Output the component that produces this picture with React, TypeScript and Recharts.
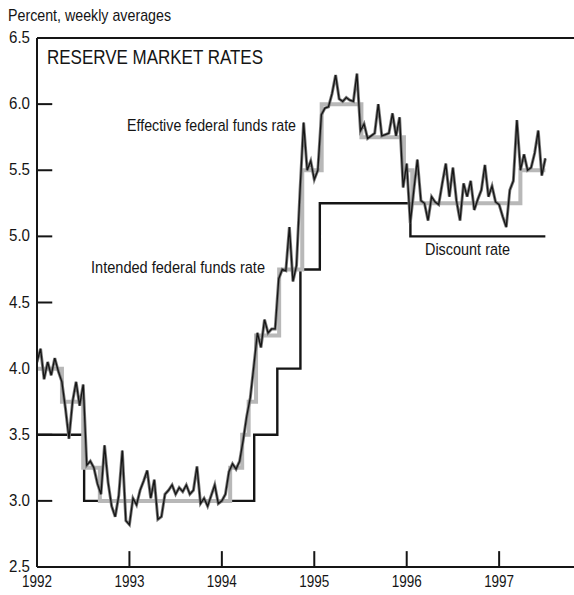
import { Line, LineChart, ReferenceLine, XAxis, YAxis } from "recharts";

const W = 574;
const H = 595;
const INK = "#151515";
const FONT = "'Liberation Sans Narrow', 'Arial Narrow', 'Liberation Sans', Arial, sans-serif";

const YEARS = [1992, 1993, 1994, 1995, 1996, 1997];
const Y_TICKS = [2.5, 3.0, 3.5, 4.0, 4.5, 5.0, 5.5, 6.0, 6.5];
const X_MIN = 1992;
const X_MAX = 1997.81;
const Y_MIN = 2.5;
const Y_MAX = 6.5;
// inward tick marks, in data units
const Y_TICK_LEN = 0.165;
const X_TICK_LEN = 0.12;

const EFF_START = 1992;
const EFF_STEP = 1 / 26;
const EFFECTIVE = [
  // 1992
  4.05, 4.15, 3.92, 4.05, 3.95, 4.08, 3.98, 3.9, 3.7, 3.47, 3.75, 3.9, 3.72,
  3.88, 3.27, 3.3, 3.25, 3.13, 3.05, 3.42, 3.14, 2.96, 2.88, 3.04, 3.38, 2.85,
  // 1993
  2.82, 3.02, 2.97, 3.08, 3.15, 3.23, 3.02, 3.16, 2.86, 2.88, 3.05, 3.08, 3.12,
  3.05, 3.1, 3.07, 3.12, 3.05, 3.08, 3.26, 2.98, 3.02, 2.96, 3.04, 3.12, 2.98,
  // 1994
  3.0, 3.05, 3.22, 3.28, 3.24, 3.3, 3.46, 3.64, 3.78, 4.02, 4.27, 4.16, 4.37,
  4.27, 4.3, 4.3, 4.68, 4.75, 4.74, 5.07, 4.66, 4.78, 5.35, 5.86, 5.5, 5.57,
  // 1995
  5.43, 5.5, 5.92, 5.97, 5.98, 6.08, 6.22, 6.04, 6.02, 6.05, 6.03, 6.02, 6.23,
  5.8, 5.85, 5.74, 5.76, 5.78, 6.0, 5.76, 5.77, 5.78, 5.93, 5.76, 5.9, 5.37,
  // 1996
  5.55, 5.1, 5.35, 5.58, 5.27, 5.25, 5.12, 5.3, 5.26, 5.24, 5.4, 5.55, 5.3,
  5.52, 5.27, 5.12, 5.4, 5.3, 5.42, 5.2, 5.28, 5.35, 5.54, 5.3, 5.38, 5.26,
  // 1997
  5.24, 5.15, 5.07, 5.35, 5.42, 5.88, 5.5, 5.62, 5.5, 5.52, 5.63, 5.8, 5.46, 5.59,
];

const INTENDED_DATES = [
  1992.0, 1992.27, 1992.5, 1992.68, 1994.09, 1994.22, 1994.29, 1994.37,
  1994.62, 1994.87, 1995.08, 1995.51, 1995.97, 1996.06, 1997.23, 1997.5,
];
const INTENDED = [
  4.0, 3.75, 3.25, 3.0, 3.25, 3.5, 3.75, 4.25, 4.75, 5.5, 6.0, 5.75, 5.5, 5.25,
  5.5, 5.5,
];

const DISCOUNT_DATES = [1992.0, 1992.51, 1994.35, 1994.6, 1994.85, 1995.06, 1996.04, 1997.5];
const DISCOUNT = [3.5, 3.0, 3.5, 4.0, 4.75, 5.25, 5.0, 5.0];

const effData = EFFECTIVE.map((v, i) => ({ t: EFF_START + i * EFF_STEP, v }));
const intendedData = INTENDED.map((v, i) => ({ t: INTENDED_DATES[i], v }));
const discountData = DISCOUNT.map((v, i) => ({ t: DISCOUNT_DATES[i], v }));
const yTickMarks = Y_TICKS.filter((v) => v > Y_MIN && v < Y_MAX).map((v) => [
  { t: X_MIN, v },
  { t: X_MIN + Y_TICK_LEN, v },
]);

function YTick(props: any) {
  const { x, y, payload } = props;
  const v = payload.value as number;
  return (
    <text
      x={x - 5}
      y={y + 5}
      textAnchor="end"
      fontFamily={FONT}
      fontSize={17}
      fill={INK}
      textLength={21}
      lengthAdjust="spacingAndGlyphs"
    >
      {v.toFixed(1)}
    </text>
  );
}

function XTick(props: any) {
  const { x, y, payload } = props;
  return (
    <text
      x={x}
      y={y + 18}
      textAnchor="middle"
      fontFamily={FONT}
      fontSize={17}
      fill={INK}
      textLength={30}
      lengthAdjust="spacingAndGlyphs"
    >
      {payload.value}
    </text>
  );
}

function Label({ x, y, w, size = 17, children }: any) {
  return (
    <text
      x={x}
      y={y}
      fontFamily={FONT}
      fontSize={size}
      fill={INK}
      textLength={w}
      lengthAdjust="spacingAndGlyphs"
    >
      {children}
    </text>
  );
}

export default function App() {
  return (
    <div style={{ position: "absolute", left: 0, top: 0, width: W, height: H, background: "#fff" }}>
      <LineChart width={W} height={H} margin={{ top: 38, right: 0, bottom: 0, left: 0 }}>
        <XAxis
          type="number"
          dataKey="t"
          domain={[X_MIN, X_MAX]}
          ticks={YEARS}
          interval={0}
          allowDataOverflow
          height={28}
          tickSize={0}
          tickLine={false}
          axisLine={{ stroke: INK, strokeWidth: 2 }}
          tick={(p: any) => <XTick {...p} />}
        />
        <YAxis
          type="number"
          domain={[Y_MIN, Y_MAX]}
          ticks={Y_TICKS}
          interval={0}
          allowDataOverflow
          width={37}
          tickSize={0}
          tickLine={false}
          axisLine={{ stroke: INK, strokeWidth: 2 }}
          tick={(p: any) => <YTick {...p} />}
        />
        <ReferenceLine y={Y_MAX} stroke={INK} strokeWidth={2} ifOverflow="visible" />
        {YEARS.filter((yr) => yr > X_MIN).map((yr) => (
          <ReferenceLine
            key={`xt${yr}`}
            segment={[
              { x: yr, y: Y_MIN },
              { x: yr, y: Y_MIN + X_TICK_LEN },
            ]}
            stroke={INK}
            strokeWidth={2}
            ifOverflow="visible"
          />
        ))}
        {yTickMarks.map((d, i) => (
          <Line
            key={`ytm${i}`}
            data={d}
            dataKey="v"
            type="linear"
            stroke={INK}
            strokeWidth={2}
            dot={false}
            isAnimationActive={false}
          />
        ))}
        <Line
          data={discountData}
          dataKey="v"
          type="stepAfter"
          stroke={INK}
          strokeWidth={2.4}
          dot={false}
          isAnimationActive={false}
        />
        <Line
          data={intendedData}
          dataKey="v"
          type="stepAfter"
          stroke="#b8b8b8"
          strokeWidth={4}
          dot={false}
          isAnimationActive={false}
        />
        <Line
          data={effData}
          dataKey="v"
          type="linear"
          stroke="#7a7a7a"
          strokeWidth={3}
          dot={false}
          isAnimationActive={false}
        />
        <Line
          data={effData}
          dataKey="v"
          type="linear"
          stroke={INK}
          strokeWidth={1.3}
          dot={false}
          isAnimationActive={false}
        />
      </LineChart>
      <svg
        width={W}
        height={H}
        style={{ position: "absolute", left: 0, top: 0, pointerEvents: "none" }}
      >
        <Label x={8} y={21} w={163}>Percent, weekly averages</Label>
        <Label x={47} y={64} w={216} size={21}>RESERVE MARKET RATES</Label>
        <Label x={127} y={131} w={169}>Effective federal funds rate</Label>
        <Label x={91} y={273} w={174}>Intended federal funds rate</Label>
        <Label x={425} y={255} w={85}>Discount rate</Label>
      </svg>
    </div>
  );
}
